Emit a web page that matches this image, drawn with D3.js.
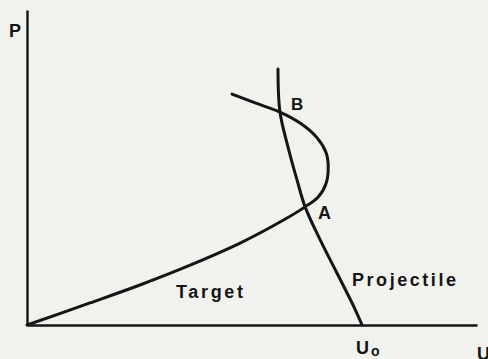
<!DOCTYPE html>
<html>
<head>
<meta charset="utf-8">
<script src="https://cdn.jsdelivr.net/npm/d3@7"></script>
<style>
  html, body { margin: 0; padding: 0; background: #f1f1ee; }
  svg { display: block; }
  text { font-family: "Liberation Sans", Arial, sans-serif; font-weight: bold; fill: #151515; }
</style>
</head>
<body>
<svg width="488" height="359"></svg>
<script>
// target curve, (U, P) in arbitrary units, U0 = 1
const targetU = [0, 0.188, 0.337, 0.487, 0.636, 0.767, 0.830, 0.869, 0.893, 0.899, 0.893, 0.866, 0.815, 0.755, 0.681, 0.612];
const targetP = [0, 0.070, 0.127, 0.190, 0.260, 0.334, 0.375, 0.406, 0.451, 0.502, 0.546, 0.594, 0.641, 0.676, 0.705, 0.733];

// projectile curve, from top down to U0
const projU = [0.749, 0.755, 0.779, 0.806, 0.830, 0.875, 0.925, 0.970, 1.0];
const projP = [0.813, 0.676, 0.565, 0.460, 0.375, 0.270, 0.165, 0.070, 0];

const curveNames = ["Target", "Projectile"];
const pointNames = ["A", "B"];
const axisNames = ["P", "U", "U", "o"];

const svg = d3.select("svg");
const x = d3.scaleLinear().domain([0, 1.343]).range([27, 477]);
const y = d3.scaleLinear().domain([0, 1]).range([325, 10]);

// axes without ticks
svg.append("g")
    .attr("transform", "translate(0," + y(0) + ")")
    .call(d3.axisBottom(x).tickValues([]).tickSizeOuter(0));
svg.append("g")
    .attr("transform", "translate(" + x(0) + ",0)")
    .call(d3.axisLeft(y).tickValues([]).tickSizeOuter(0));
svg.selectAll(".domain")
    .attr("stroke", "#151515")
    .attr("stroke-width", 2.4);

const line = d3.line()
    .x(d => x(d[0]))
    .y(d => y(d[1]))
    .curve(d3.curveCatmullRom.alpha(0.5));

const target = targetU.map((u, i) => [u, targetP[i]]);
const proj = projU.map((u, i) => [u, projP[i]]);

[target, proj].forEach(pts => {
    svg.append("path")
        .attr("d", line(pts))
        .attr("fill", "none")
        .attr("stroke", "#151515")
        .attr("stroke-width", 3)
        .attr("stroke-linecap", "round");
});

// curve labels
svg.append("text")
    .attr("x", 176).attr("y", 298)
    .attr("font-size", 18)
    .attr("textLength", 67).attr("lengthAdjust", "spacing")
    .text(curveNames[0]);
svg.append("text")
    .attr("x", 352).attr("y", 286)
    .attr("font-size", 18)
    .attr("textLength", 104).attr("lengthAdjust", "spacing")
    .text(curveNames[1]);

// intersection labels
svg.append("text").attr("x", 318).attr("y", 219).attr("font-size", 18).text(pointNames[0]);
svg.append("text").attr("x", 291).attr("y", 110).attr("font-size", 17).text(pointNames[1]);

// axis labels
svg.append("text").attr("x", 9).attr("y", 37).attr("font-size", 18).text(axisNames[0]);
svg.append("text").attr("x", 477).attr("y", 360).attr("font-size", 18).text(axisNames[1]);
const u0 = svg.append("text").attr("x", 356).attr("y", 354).attr("font-size", 18);
u0.append("tspan").text(axisNames[2]);
u0.append("tspan").attr("dx", 2).attr("dy", 2).attr("font-size", 14).text(axisNames[3]);
</script>
</body>
</html>
